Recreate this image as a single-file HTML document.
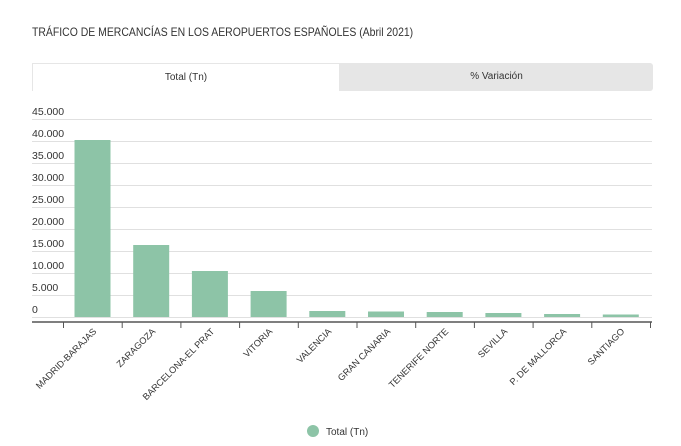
<!DOCTYPE html>
<html><head><meta charset="utf-8"><style>
body{margin:0;width:681px;height:446px;background:#fff;font-family:"Liberation Sans",sans-serif;overflow:hidden;position:relative}
.t{position:absolute;left:32px;top:25px;font-size:12px;color:#333;transform:scaleX(0.87);transform-origin:0 0;white-space:nowrap}
.tabs{position:absolute;left:32px;top:63px;width:621px;height:28px;background:#e6e6e6;border-radius:3px}
.tab1{position:absolute;left:0;top:0;width:308px;height:28px;background:#fff;border:1px solid #e6e6e6;border-bottom:none;box-sizing:border-box;text-align:center;line-height:28px;font-size:10px;color:#333}
.tab2{position:absolute;left:308px;top:0;width:313px;height:28px;text-align:center;line-height:28px;font-size:10px;color:#333}
</style></head><body>
<div class="t">TRÁFICO DE MERCANCÍAS EN LOS AEROPUERTOS ESPAÑOLES (Abril 2021)</div>
<div class="tabs"><div class="tab1">Total (Tn)</div><div class="tab2">% Variación</div></div>
<svg width="681" height="446" style="position:absolute;left:0;top:0" font-family="Liberation Sans, sans-serif">
<g stroke="#e0e0e0" stroke-width="1">
<line x1="32" x2="652" y1="119.5" y2="119.5"/><line x1="32" x2="652" y1="141.5" y2="141.5"/><line x1="32" x2="652" y1="163.5" y2="163.5"/><line x1="32" x2="652" y1="185.5" y2="185.5"/><line x1="32" x2="652" y1="207.5" y2="207.5"/><line x1="32" x2="652" y1="229.5" y2="229.5"/><line x1="32" x2="652" y1="251.5" y2="251.5"/><line x1="32" x2="652" y1="273.5" y2="273.5"/><line x1="32" x2="652" y1="295.5" y2="295.5"/><line x1="32" x2="652" y1="317.5" y2="317.5"/>
</g>
<g font-size="10.5" fill="#333">
<text x="32" y="115">45.000</text><text x="32" y="137">40.000</text><text x="32" y="159">35.000</text><text x="32" y="181">30.000</text><text x="32" y="203">25.000</text><text x="32" y="225">20.000</text><text x="32" y="247">15.000</text><text x="32" y="269">10.000</text><text x="32" y="291">5.000</text><text x="32" y="313">0</text>
</g>
<g fill="#8dc4a7">
<rect x="74.5" y="140" width="36" height="177"/>
<rect x="133.2" y="245" width="36" height="72"/>
<rect x="191.9" y="271" width="36" height="46"/>
<rect x="250.6" y="291" width="36" height="26"/>
<rect x="309.3" y="311" width="36" height="6"/>
<rect x="368" y="311.5" width="36" height="5.5"/>
<rect x="426.7" y="312" width="36" height="5"/>
<rect x="485.4" y="313" width="36" height="4"/>
<rect x="544.1" y="314" width="36" height="3"/>
<rect x="602.8" y="314.5" width="36" height="2.5"/>
</g>
<line x1="32" x2="652" y1="322" y2="322" stroke="#555" stroke-width="1.5"/>
<g stroke="#555" stroke-width="1">
<line x1="63.5" x2="63.5" y1="322" y2="328"/><line x1="122.2" x2="122.2" y1="322" y2="328"/><line x1="180.9" x2="180.9" y1="322" y2="328"/><line x1="239.6" x2="239.6" y1="322" y2="328"/><line x1="298.3" x2="298.3" y1="322" y2="328"/><line x1="357" x2="357" y1="322" y2="328"/><line x1="415.7" x2="415.7" y1="322" y2="328"/><line x1="474.4" x2="474.4" y1="322" y2="328"/><line x1="533.1" x2="533.1" y1="322" y2="328"/><line x1="591.8" x2="591.8" y1="322" y2="328"/><line x1="650.5" x2="650.5" y1="322" y2="328"/>
</g>
<g font-size="9.2" fill="#333" text-anchor="end">
<text transform="translate(97,332) rotate(-45)">MADRID-BARAJAS</text>
<text transform="translate(156,332) rotate(-45)">ZARAGOZA</text>
<text transform="translate(215,332) rotate(-45)">BARCELONA-EL PRAT</text>
<text transform="translate(273,332) rotate(-45)">VITORIA</text>
<text transform="translate(332,332) rotate(-45)">VALENCIA</text>
<text transform="translate(391,332) rotate(-45)">GRAN CANARIA</text>
<text transform="translate(449,332) rotate(-45)">TENERIFE NORTE</text>
<text transform="translate(508,332) rotate(-45)">SEVILLA</text>
<text transform="translate(567,332) rotate(-45)">P. DE MALLORCA</text>
<text transform="translate(625,332) rotate(-45)">SANTIAGO</text>
</g>
<circle cx="313" cy="431" r="6" fill="#8dc4a7"/>
<text x="326" y="435" font-size="10" fill="#333">Total (Tn)</text>
</svg>
</body></html>
